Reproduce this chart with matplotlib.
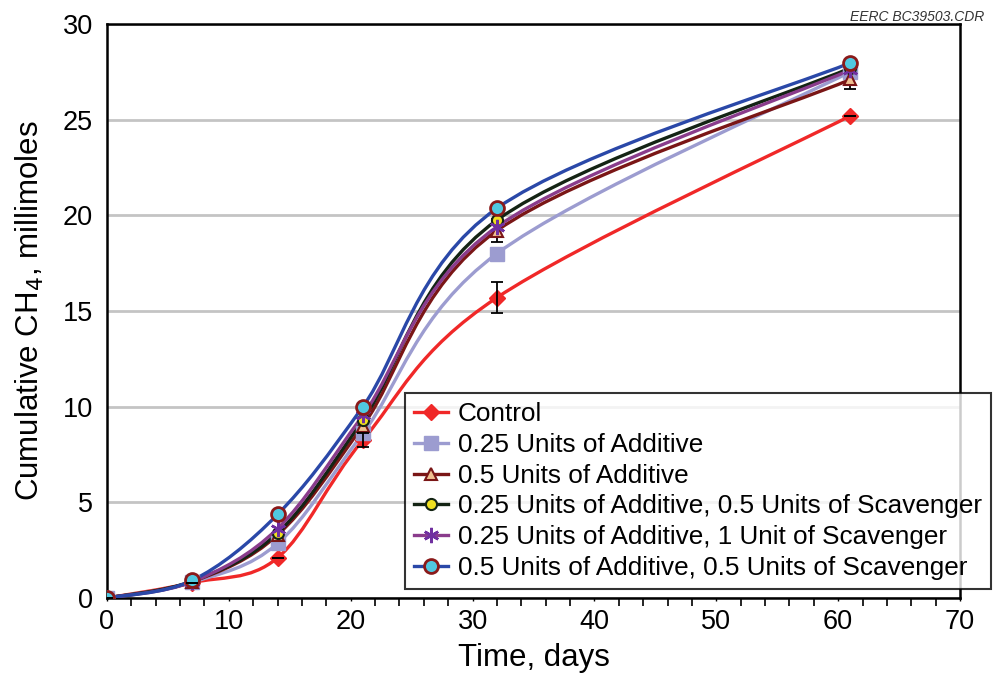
import numpy as np
import matplotlib
matplotlib.use("Agg")
import matplotlib.pyplot as plt
from matplotlib.path import Path
from matplotlib.patches import PathPatch
from matplotlib.lines import Line2D

plt.rcParams['font.family'] = ['Liberation Sans', 'DejaVu Sans']

# DATA
days = [0, 7, 14, 21, 32, 61]
control = [0, 0.80, 2.1, 8.25, 15.7, 25.2]
add_025 = [0, 0.82, 2.85, 8.6, 18.0, 27.5]
add_05 = [0, 0.85, 3.3, 9.0, 19.2, 27.1]
add_025_sc_05 = [0, 0.88, 3.4, 9.3, 19.75, 27.7]
add_025_sc_1 = [0, 0.85, 3.63, 9.55, 19.4, 27.6]
add_05_sc_05 = [0, 0.92, 4.37, 10.0, 20.37, 27.97]

control_err = [0, 0, 0, 0.35, 0.8, 0]
add_05_err = [0, 0, 0, 0, 0.6, 0.5]

labels = ["Control",
          "0.25 Units of Additive",
          "0.5 Units of Additive",
          "0.25 Units of Additive, 0.5 Units of Scavenger",
          "0.25 Units of Additive, 1 Unit of Scavenger",
          "0.5 Units of Additive, 0.5 Units of Scavenger"]


def smooth_path(x, y):
    # excel-like smoothed line as cubic bezier segments
    pts = np.column_stack([x, y]).astype(float)
    n = len(pts)
    verts = [pts[0]]
    codes = [Path.MOVETO]
    for i in range(n - 1):
        p0 = pts[max(i - 1, 0)]
        p1 = pts[i]
        p2 = pts[i + 1]
        p3 = pts[min(i + 2, n - 1)]
        c1 = p1 + (p2 - p0) / 6.0
        c2 = p2 - (p3 - p1) / 6.0
        verts += [c1, c2, p2]
        codes += [Path.CURVE4] * 3
    return Path(verts, codes)


fig = plt.figure(figsize=(9.99, 6.81), dpi=100)
ax = fig.add_axes([0.1071, 0.1219, 0.8539, 0.8429])

series = [
    (control, '#f02828', dict(marker='D', markersize=8, markerfacecolor='#f02828', markeredgecolor='#f02828')),
    (add_025, '#9c9cd0', dict(marker='s', markersize=10, markerfacecolor='#9c9cd0', markeredgecolor='#9c9cd0')),
    (add_05, '#7a1616', dict(marker='^', markersize=9, markerfacecolor='#f0c090', markeredgecolor='#7a1616', markeredgewidth=1.5)),
    (add_025_sc_05, '#142414', dict(marker='o', markersize=8, markerfacecolor='#f0e020', markeredgecolor='#142414', markeredgewidth=1.5)),
    (add_025_sc_1, '#8a3c8c', dict(marker=(6, 2, 0), markersize=11, markerfacecolor='#7030a0', markeredgecolor='#7030a0', markeredgewidth=1.8)),
    (add_05_sc_05, '#2a48a8', dict(marker='o', markersize=10, markerfacecolor='#50c8e0', markeredgecolor='#8a1a1a', markeredgewidth=2)),
]

handles = []
for vals, col, mk in series:
    ax.add_patch(PathPatch(smooth_path(days, vals), facecolor='none', edgecolor=col, lw=2.4, zorder=3))
for vals, col, mk in series:
    ax.plot(days, vals, linestyle='none', zorder=4, **mk)
    handles.append(Line2D([], [], color=col, lw=2.4, **mk))

ax.errorbar(days, control, yerr=control_err, fmt='none', ecolor='black', elinewidth=1.3, capsize=4, capthick=1.3, zorder=5)
ax.errorbar(days, add_05, yerr=add_05_err, fmt='none', ecolor='black', elinewidth=1.3, capsize=4, capthick=1.3, zorder=2)

ax.set_xlim(0, 70)
ax.set_ylim(0, 30)
ax.set_xticks(np.arange(0, 71, 10))
ax.set_xticks(np.arange(0, 71, 2), minor=True)
ax.set_yticks(np.arange(0, 31, 5))
ax.tick_params(axis='x', which='minor', direction='out', length=6, width=1.2)
ax.tick_params(axis='x', which='major', length=2, width=1, labelsize=19.5, pad=6)
ax.tick_params(axis='y', length=0, labelsize=19.5, pad=10)
ax.yaxis.grid(True, color='#c4c4c4', lw=2)
ax.set_axisbelow(True)
for s in ax.spines.values():
    s.set_linewidth(1.8)

ax.set_xlabel('Time, days', fontsize=22.5, labelpad=6)
ax.set_ylabel('Cumulative CH$_4$, millimoles', fontsize=22.5, labelpad=12)

fig.text(0.985, 0.975, 'EERC BC39503.CDR', fontsize=10, style='italic', ha='right', va='center', color='#333333')

leg = fig.legend(handles, labels, loc='upper left', bbox_to_anchor=(0.405, 0.423),
                 fontsize=18.8, frameon=True, fancybox=False, handlelength=1.3,
                 handletextpad=0.4, labelspacing=0.26, borderpad=0.35, borderaxespad=0)
leg.get_frame().set_edgecolor('black')
leg.get_frame().set_linewidth(1.5)

fig.savefig('out.png', dpi=100)
